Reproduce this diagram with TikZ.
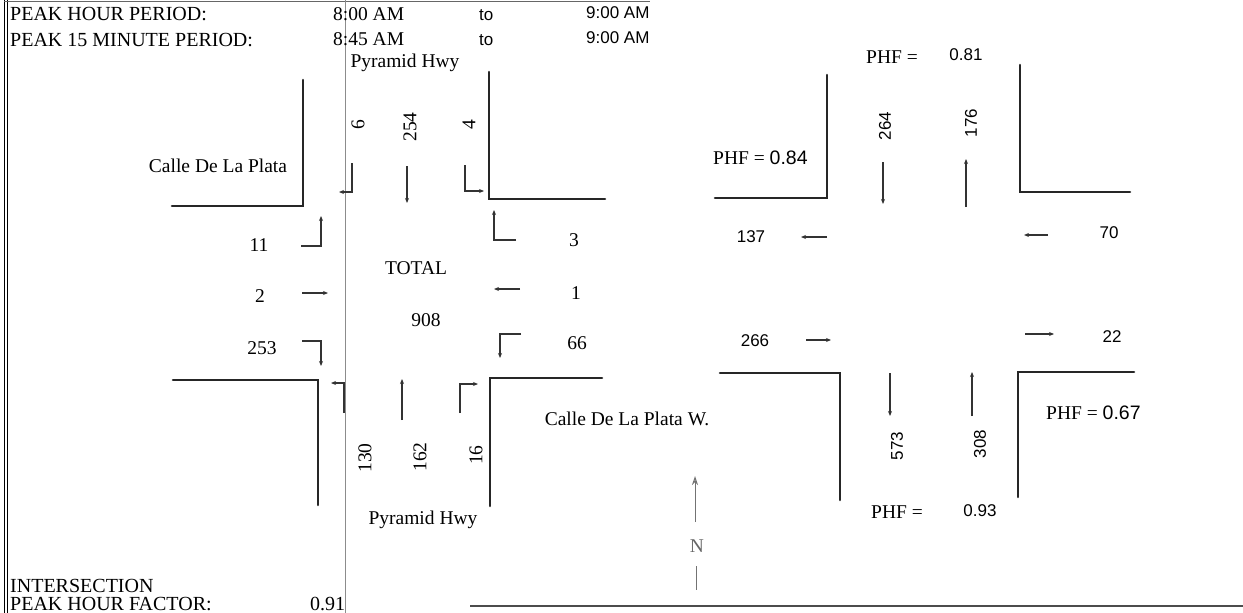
\documentclass[tikz,border=0pt]{standalone}
\usepackage{fontspec}
\setmainfont{Liberation Serif}
\newfontfamily\numsans{Liberation Sans}
\usetikzlibrary{arrows.meta}
\tikzset{
    curb/.style={line width=2.6pt, line cap=round, black!85},
    mv/.style={line width=1.2pt, black!80, -{Stealth[length=5pt,width=4pt]}},
    txt/.style={inner sep=0pt, font=\fontsize{19.5}{22}\selectfont},
    hdr/.style={inner sep=0pt, anchor=west, font=\fontsize{20}{23}\selectfont},
    hdrsans/.style={hdr, font=\fontsize{17}{20}\numsans},
    sans/.style={inner sep=0pt, font=\fontsize{17}{20}\numsans}
}
\begin{document}
\begin{tikzpicture}[x=1pt, y=-1pt]
    \useasboundingbox (0,0) rectangle (1243,613);

    % frame
    \draw[line width=1pt] (4,0) -- (4,613);
    \draw[line width=1pt] (7,0) -- (7,613);
    \draw[line width=0.8pt, black!60] (4,1) -- (650,1);
    \draw[line width=0.8pt, black!45] (345,0) -- (345,613);
    \draw[line width=1.3pt, black!70] (470,606) -- (1243,606);

    % header
    \node[hdr] (hph) at (10,14) {PEAK HOUR PERIOD:};
    \node[hdr, font=\fontsize{19.5}{22}\selectfont] (hphf) at (333,14) {8:00 AM};
    \node[hdrsans] (hpht) at (479,15) {to};
    \node[hdrsans] (hpht2) at (586,13) {9:00 AM};
    \node[hdr] (hp15) at (10,40) {PEAK 15 MINUTE PERIOD:};
    \node[hdr, font=\fontsize{19.5}{22}\selectfont] (hp15f) at (333,39) {8:45 AM};
    \node[hdrsans] (hp15t) at (479,40) {to};
    \node[hdrsans] (hp15t2) at (586,38) {9:00 AM};

    % 1. Total intersection
    \draw[curb] (303,80) -- (303,206) -- (172,206);
    \draw[curb] (489,72) -- (489,199) -- (605,199);
    \draw[curb] (173,380) -- (318,380) -- (318,505);
    \draw[curb] (602,378) -- (490,378) -- (490,506);

    \node[txt] (pyrn) at (405,63) {Pyramid Hwy};
    \node[txt] (pyrs) at (423,520) {Pyramid Hwy};
    \node[txt] (cdlp) at (218,166) {Calle De La Plata};
    \node[txt] (cdlpw) at (627,419) {Calle De La Plata W.};
    \node[txt] (total) at (416,268) {TOTAL};
    \node[txt] (ttot) at (426,320) {908};

    \node[txt, rotate=90] (sbr) at (358,125) {6};
    \node[txt, rotate=90] (sbt) at (410,127) {254};
    \node[txt, rotate=90] (sbl) at (469,125) {4};
    \draw[mv] (352,163) |- (339,192);
    \draw[mv] (407,166) -- (407,203);
    \draw[mv] (465,165) |- (484,191);

    \node[txt] (ebl) at (259,245) {11};
    \node[txt] (ebt) at (260,296) {2};
    \node[txt] (ebr) at (262,348) {253};
    \draw[mv] (301,246) -| (321,216);
    \draw[mv] (302,293) -- (328,293);
    \draw[mv] (302,341) -| (321,366);

    \node[txt] (wbr) at (574,240) {3};
    \node[txt] (wbt) at (576,293) {1};
    \node[txt] (wbl) at (577,343) {66};
    \draw[mv] (516,240) -| (494,210);
    \draw[mv] (520,289) -- (494,289);
    \draw[mv] (521,334) -| (500,358);

    \node[txt, rotate=90] (nbl) at (365,458) {130};
    \node[txt, rotate=90] (nbt) at (420,457) {162};
    \node[txt, rotate=90] (nbr) at (476,455) {16};
    \draw[mv] (344,413) |- (331,383);
    \draw[mv] (402,420) -- (402,379);
    \draw[mv] (460,413) |- (478,384);

    % north arrow
    \draw[line width=1pt, black!55, -{Stealth[length=9pt,width=6pt,open]}] (695,522) -- (695,476);
    \node[txt, black!60] (north) at (697,546) {N};
    \draw[line width=1pt, black!55] (696,566) -- (696,590);

    % 2. Peak hour factors
    \draw[curb] (827,75) -- (827,198) -- (715,198);
    \draw[curb] (1020,65) -- (1020,192) -- (1130,192);
    \draw[curb] (720,373) -- (840,373) -- (840,500);
    \draw[curb] (1134,372) -- (1018,372) -- (1018,497);

    \node[txt] (phfn) at (892,57) {PHF =};
    \node[sans] (phfnv) at (966,55) {0.81};
    \node[txt, anchor=west] (phfw) at (713,158) {PHF = {\numsans 0.84}};
    \node[txt, anchor=west] (phfe) at (1046,413) {PHF = {\numsans 0.67}};
    \node[txt] (phfs) at (897,512) {PHF =};
    \node[sans] (phfsv) at (980,511) {0.93};

    \node[sans, rotate=90] (nsb) at (885,126) {264};
    \node[sans, rotate=90] (nnb) at (971,123) {176};
    \draw[mv] (883,162) -- (883,204);
    \draw[mv] (966,207) -- (966,159);

    \node[sans] (wout) at (751,237) {137};
    \node[sans] (win) at (1109,233) {70};
    \draw[mv] (827,237) -- (801,237);
    \draw[mv] (1048,235) -- (1024,235);

    \node[sans] (ein) at (755,341) {266};
    \node[sans] (eout) at (1112,337) {22};
    \draw[mv] (806,340) -- (831,340);
    \draw[mv] (1025,334) -- (1054,334);

    \node[sans, rotate=90] (ssb) at (897,446) {573};
    \node[sans, rotate=90] (snb) at (980,444) {308};
    \draw[mv] (890,373) -- (890,416);
    \draw[mv] (972,416) -- (972,372);

    % intersection factor
    \node[hdr] (isec) at (10,586) {INTERSECTION};
    \node[hdr] (iphf) at (10,604) {PEAK HOUR FACTOR:};
    \node[hdr] (iphfv) at (310,604) {0.91};
\end{tikzpicture}
\end{document}
